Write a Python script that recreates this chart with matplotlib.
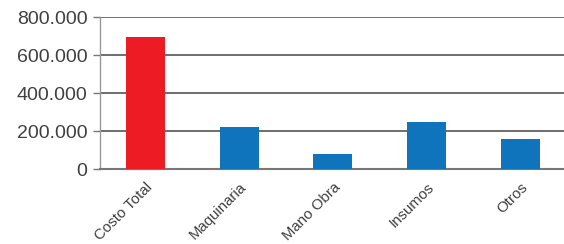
import matplotlib
matplotlib.use('Agg')
import matplotlib.pyplot as plt

# data
categories = ['Costo Total', 'Maquinaria', 'Mano Obra', 'Insumos', 'Otros']
values = [695000, 220000, 80000, 248000, 158000]
colors = ['#ED1C24', '#1074BC', '#1074BC', '#1074BC', '#1074BC']
yticks = [0, 200000, 400000, 600000, 800000]
ytick_labels = ['0', '200.000', '400.000', '600.000', '800.000']

plt.rcParams['font.family'] = ['Liberation Sans', 'DejaVu Sans']

fig = plt.figure(figsize=(5.64, 2.44), dpi=100)
ax = fig.add_axes([100 / 564, 75 / 244, 1 - 100 / 564, 152 / 244])

x = range(len(categories))
ax.bar(x, values, width=0.415, color=colors, zorder=3)

ax.set_ylim(0, 800000)
ax.set_xlim(-0.48, 4.46)
ax.set_yticks(yticks)
ax.set_yticklabels(ytick_labels, fontsize=14, color='#404040')
ax.set_xticks(list(x))
ax.set_xticklabels(categories, rotation=45, ha='right', rotation_mode='anchor',
                   fontsize=10.8, color='#404040')

ax.yaxis.grid(True, color='#555555', linewidth=1.2, zorder=0)
ax.tick_params(axis='y', length=5, width=1, color='#777777', pad=4)
ax.tick_params(axis='x', length=0, pad=8)

for s in ['top', 'right']:
    ax.spines[s].set_visible(False)
ax.spines['left'].set_color('#999999')
ax.spines['left'].set_linewidth(1)
ax.spines['bottom'].set_color('#777777')
ax.spines['bottom'].set_linewidth(1.5)

fig.savefig('out.png', dpi=100)
